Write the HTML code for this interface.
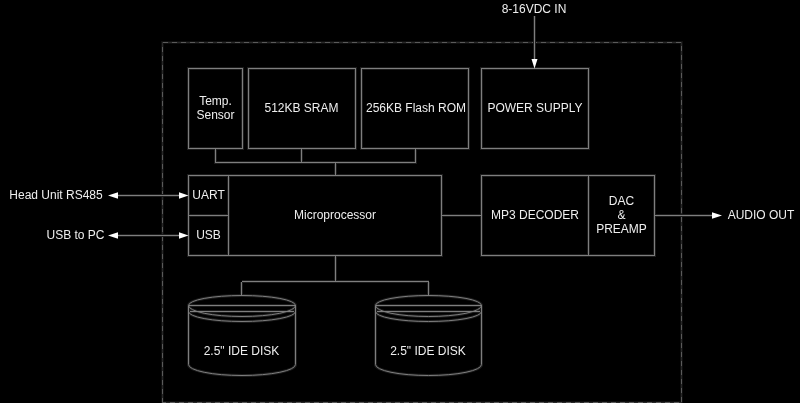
<!DOCTYPE html>
<html><head><meta charset="utf-8"><style>
html,body{margin:0;padding:0;background:#000;width:800px;height:403px;overflow:hidden}
#w{width:800px;height:403px;will-change:transform}
svg{display:block}
text{font-family:"Liberation Sans",sans-serif;font-size:12px;fill:#eeeeee}
</style></head><body>
<div id="w"><svg width="800" height="403" viewBox="0 0 800 403">
<rect width="800" height="403" fill="#000"/>
<defs>
<g id="L">
<g shape-rendering="crispEdges">
<rect x="188.5" y="68.5" width="54" height="80"/>
<rect x="248.5" y="68.5" width="107" height="80"/>
<rect x="361.5" y="68.5" width="107" height="80"/>
<rect x="481.5" y="68.5" width="107" height="80"/>
<path d="M215.5 148.5 V162.5 H415.5 V148.5 M301.5 148.5 V162.5 M335.5 162.5 V175.5"/>
<rect x="188.5" y="175.5" width="253" height="80"/>
<path d="M228.5 175.5 V255.5 M188.5 215.5 H228.5"/>
<rect x="481.5" y="175.5" width="173" height="80"/>
<path d="M588.5 175.5 V255.5"/>
<path d="M441.5 215.5 H481.5"/>
<path d="M654.5 215.5 H713"/>
<path d="M534.5 15.5 V60"/>
<path d="M117 195.5 H180 M117 235.5 H180"/>
<path d="M335.5 255.5 V281.5 M241.5 281.5 H428.5 M241.5 281.5 V295.5 M428.5 281.5 V295.5"/>
</g>
<path d="M188.5 305.5 A53.5 10 0 0 1 295.5 305.5"/>
<path d="M188.5 305.5 H295.5" shape-rendering="crispEdges"/>
<path d="M188.5 305.5 A53.5 11 0 0 0 295.5 305.5"/>
<path d="M190.0 311.5 H294.0" shape-rendering="crispEdges"/>
<path d="M188.5 311.5 A53.5 10 0 0 0 295.5 311.5"/>
<path d="M188.5 305.5 V364.5 A53.5 11 0 0 0 295.5 364.5 V305.5"/>
<path d="M375.5 305.5 A53.0 10 0 0 1 481.5 305.5"/>
<path d="M375.5 305.5 H481.5" shape-rendering="crispEdges"/>
<path d="M375.5 305.5 A53.0 11 0 0 0 481.5 305.5"/>
<path d="M377.0 311.5 H480.0" shape-rendering="crispEdges"/>
<path d="M375.5 311.5 A53.0 10 0 0 0 481.5 311.5"/>
<path d="M375.5 305.5 V364.5 A53.0 11 0 0 0 481.5 364.5 V305.5"/>
</g>
</defs>
<!-- dashed enclosure -->
<g fill="none" stroke-width="1" shape-rendering="crispEdges">
<path stroke="#0e0e0e" stroke-width="3" d="M162.5 402.5 V42.5 H681.5 V402.5 H162.5"/>
<path stroke="#282828" d="M162.5 402.5 V42.5 H681.5 V402.5 H162.5"/>
<path stroke="#5a5a5a" stroke-dasharray="5 4" d="M162.5 402.5 V42.5 H681.5 V402.5 H162.5"/>
</g>
<use href="#L" fill="none" stroke="#1c1c1c" stroke-width="3"/>
<use href="#L" fill="none" stroke="#7e7e7e" stroke-width="1"/>
<!-- arrowheads -->
<g fill="#fff">
<polygon points="534.5,68.5 531.5,59 537.5,59"/>
<polygon points="108,195.5 118,192.2 118,198.8"/>
<polygon points="188.5,195.5 179,192.2 179,198.8"/>
<polygon points="108,235.5 118,232.2 118,238.8"/>
<polygon points="188.5,235.5 179,232.2 179,238.8"/>
<polygon points="722,215.5 712,212.2 712,218.8"/>
</g>
<!-- text -->
<text x="534" y="12.5" text-anchor="middle">8-16VDC IN</text>
<text x="215.5" y="105" text-anchor="middle">Temp.</text>
<text x="215.5" y="119" text-anchor="middle">Sensor</text>
<text x="301.5" y="112" text-anchor="middle">512KB SRAM</text>
<text x="416" y="112" text-anchor="middle">256KB Flash ROM</text>
<text x="535" y="112" text-anchor="middle">POWER SUPPLY</text>
<text x="56" y="199" text-anchor="middle">Head Unit RS485</text>
<text x="75.5" y="239" text-anchor="middle">USB to PC</text>
<text x="208.5" y="199" text-anchor="middle">UART</text>
<text x="208.5" y="239" text-anchor="middle">USB</text>
<text x="335" y="219" text-anchor="middle">Microprocessor</text>
<text x="535" y="219" text-anchor="middle">MP3 DECODER</text>
<text x="621.5" y="205" text-anchor="middle">DAC</text>
<text x="621.5" y="219" text-anchor="middle">&amp;</text>
<text x="621.5" y="232.8" text-anchor="middle">PREAMP</text>
<text x="761" y="219" text-anchor="middle">AUDIO OUT</text>
<text x="241.5" y="354.5" text-anchor="middle">2.5" IDE DISK</text>
<text x="428" y="354.5" text-anchor="middle">2.5" IDE DISK</text>
</svg></div>
</body></html>
